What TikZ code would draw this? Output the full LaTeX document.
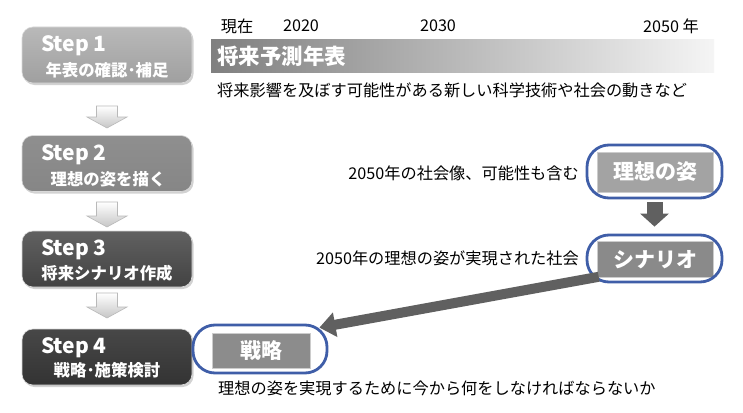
\documentclass[tikz,border=0pt]{standalone}
\usepackage{fontspec}
\setmainfont{Noto Sans CJK JP}
\usetikzlibrary{arrows.meta,shadows,calc}
\definecolor{outblue}{HTML}{3F5EA8}
\definecolor{arrgray}{HTML}{606060}
\newcommand{\stepdown}[3]{%
  \path[blockdn] (#1-10.5,#2) -- (#1+10.5,#2) -- (#1+10.5,#3-11) -- (#1+20,#3-11)
    -- (#1,#3) -- (#1-20,#3-11) -- (#1-10.5,#3-11) -- cycle;}
\begin{document}
\begin{tikzpicture}[x=1pt,y=-1pt,
  stepbox/.style={rounded corners=11pt, minimum width=170pt, minimum height=56pt,
    draw=white!70!gray, line width=0.6pt, drop shadow={shadow xshift=1.5pt, shadow yshift=-2pt, opacity=0.35}},
  steptitle/.style={text=white, font=\fontsize{21}{24}\selectfont\bfseries, inner sep=0pt, anchor=west},
  stepsub/.style={text=white, font=\fontsize{16.4}{19}\selectfont\bfseries, inner sep=0pt},
  blockdn/.style={top color=white, bottom color=gray!45, draw=gray!55, line width=0.6pt},
  plain/.style={font=\fontsize{16.2}{19}\selectfont, inner sep=0pt},
  graybox/.style={font=\fontsize{21}{25}\selectfont\bfseries, text=white, draw=gray!40, line width=0.6pt, inner sep=0pt},
  outline/.style={draw=outblue, line width=2.8pt, rounded corners=22pt},
  darkarrow/.style={draw=arrgray, line width=16pt, -{Triangle[width=28pt,length=13pt]}},
  bigarrow/.style={draw=arrgray, line width=10pt, -{Triangle[width=24pt,length=16pt]}}]
\useasboundingbox (0,0) rectangle (743,412);
\fill[white] (0,0) rectangle (743,412);

% steps
\node[stepbox, top color=gray!55, bottom color=gray!75] (s1) at (107,55) {};
\node[steptitle] (s1a) at (41,46) {Step 1};
\node[stepsub] (s1b) at (107,70) {年表の確認･補足};

\node[stepbox, top color=gray!88, bottom color=gray!105!black] (s2) at (107,163.5) {};
\node[steptitle] (s2a) at (41,155) {Step 2};
\node[stepsub] (s2b) at (108,179) {理想の姿を描く};

\node[stepbox, top color=black!62, bottom color=black!74] (s3) at (107,259) {};
\node[steptitle] (s3a) at (41,250) {Step 3};
\node[stepsub] (s3b) at (107,273) {将来シナリオ作成};

\node[stepbox, top color=black!72, bottom color=black!80] (s4) at (107,357) {};
\node[steptitle] (s4a) at (41,348) {Step 4};
\node[stepsub] (s4b) at (107,370) {戦略･施策検討};

\stepdown{107}{106}{128}
\stepdown{107}{202}{227}
\stepdown{107}{293}{318}

% timeline
\node[plain] (now) at (237,26) {現在};
\node[plain] (y20) at (301,26) {2020};
\node[plain] (y30) at (438,26) {2030};
\node[plain] (y50) at (671,26) {2050 年};
\node[left color=gray!100, right color=gray!8, minimum width=503pt, minimum height=32pt, inner sep=0pt] (bar) at (462.5,56) {};
\node[anchor=west, text=white, font=\fontsize{21.5}{25}\selectfont\bfseries, inner sep=0pt] (bart) at (217,56) {将来予測年表};
\node[plain, anchor=west] (bard) at (217,90) {将来影響を及ぼす可能性がある新しい科学技術や社会の動きなど};

% right column
\node[graybox, fill=gray!72, minimum width=116pt, minimum height=40pt] (ideal) at (655,172) {理想の姿};
\node[outline, minimum width=135pt, minimum height=53pt] (idealo) at (654.5,171.5) {};
\node[plain, anchor=east] (ideall) at (579,173) {2050年の社会像、可能性も含む};

\node[graybox, fill=gray!108!black, minimum width=116pt, minimum height=36pt] (scen) at (655,259.5) {シナリオ};
\node[outline, minimum width=135pt, minimum height=47pt] (sceno) at (654.5,258.5) {};
\node[plain, anchor=east] (scenl) at (579,258) {2050年の理想の姿が実現された社会};

\node[graybox, fill=gray!110!black, minimum width=98pt, minimum height=35pt] (sen) at (261,350.5) {戦略};
\node[outline, minimum width=134pt, minimum height=48pt] (seno) at (260,349) {};
\node[plain, anchor=west] (senl) at (218,388) {理想の姿を実現するために今から何をしなければならないか};

% connectors
\draw[darkarrow, shorten <=3pt, shorten >=7pt] (idealo.south) -- (sceno.north);
\draw[bigarrow] ($(scen.south west)+(2,-1)$) -- ($(seno.north east)+(-9,4)$);
\end{tikzpicture}
\end{document}
